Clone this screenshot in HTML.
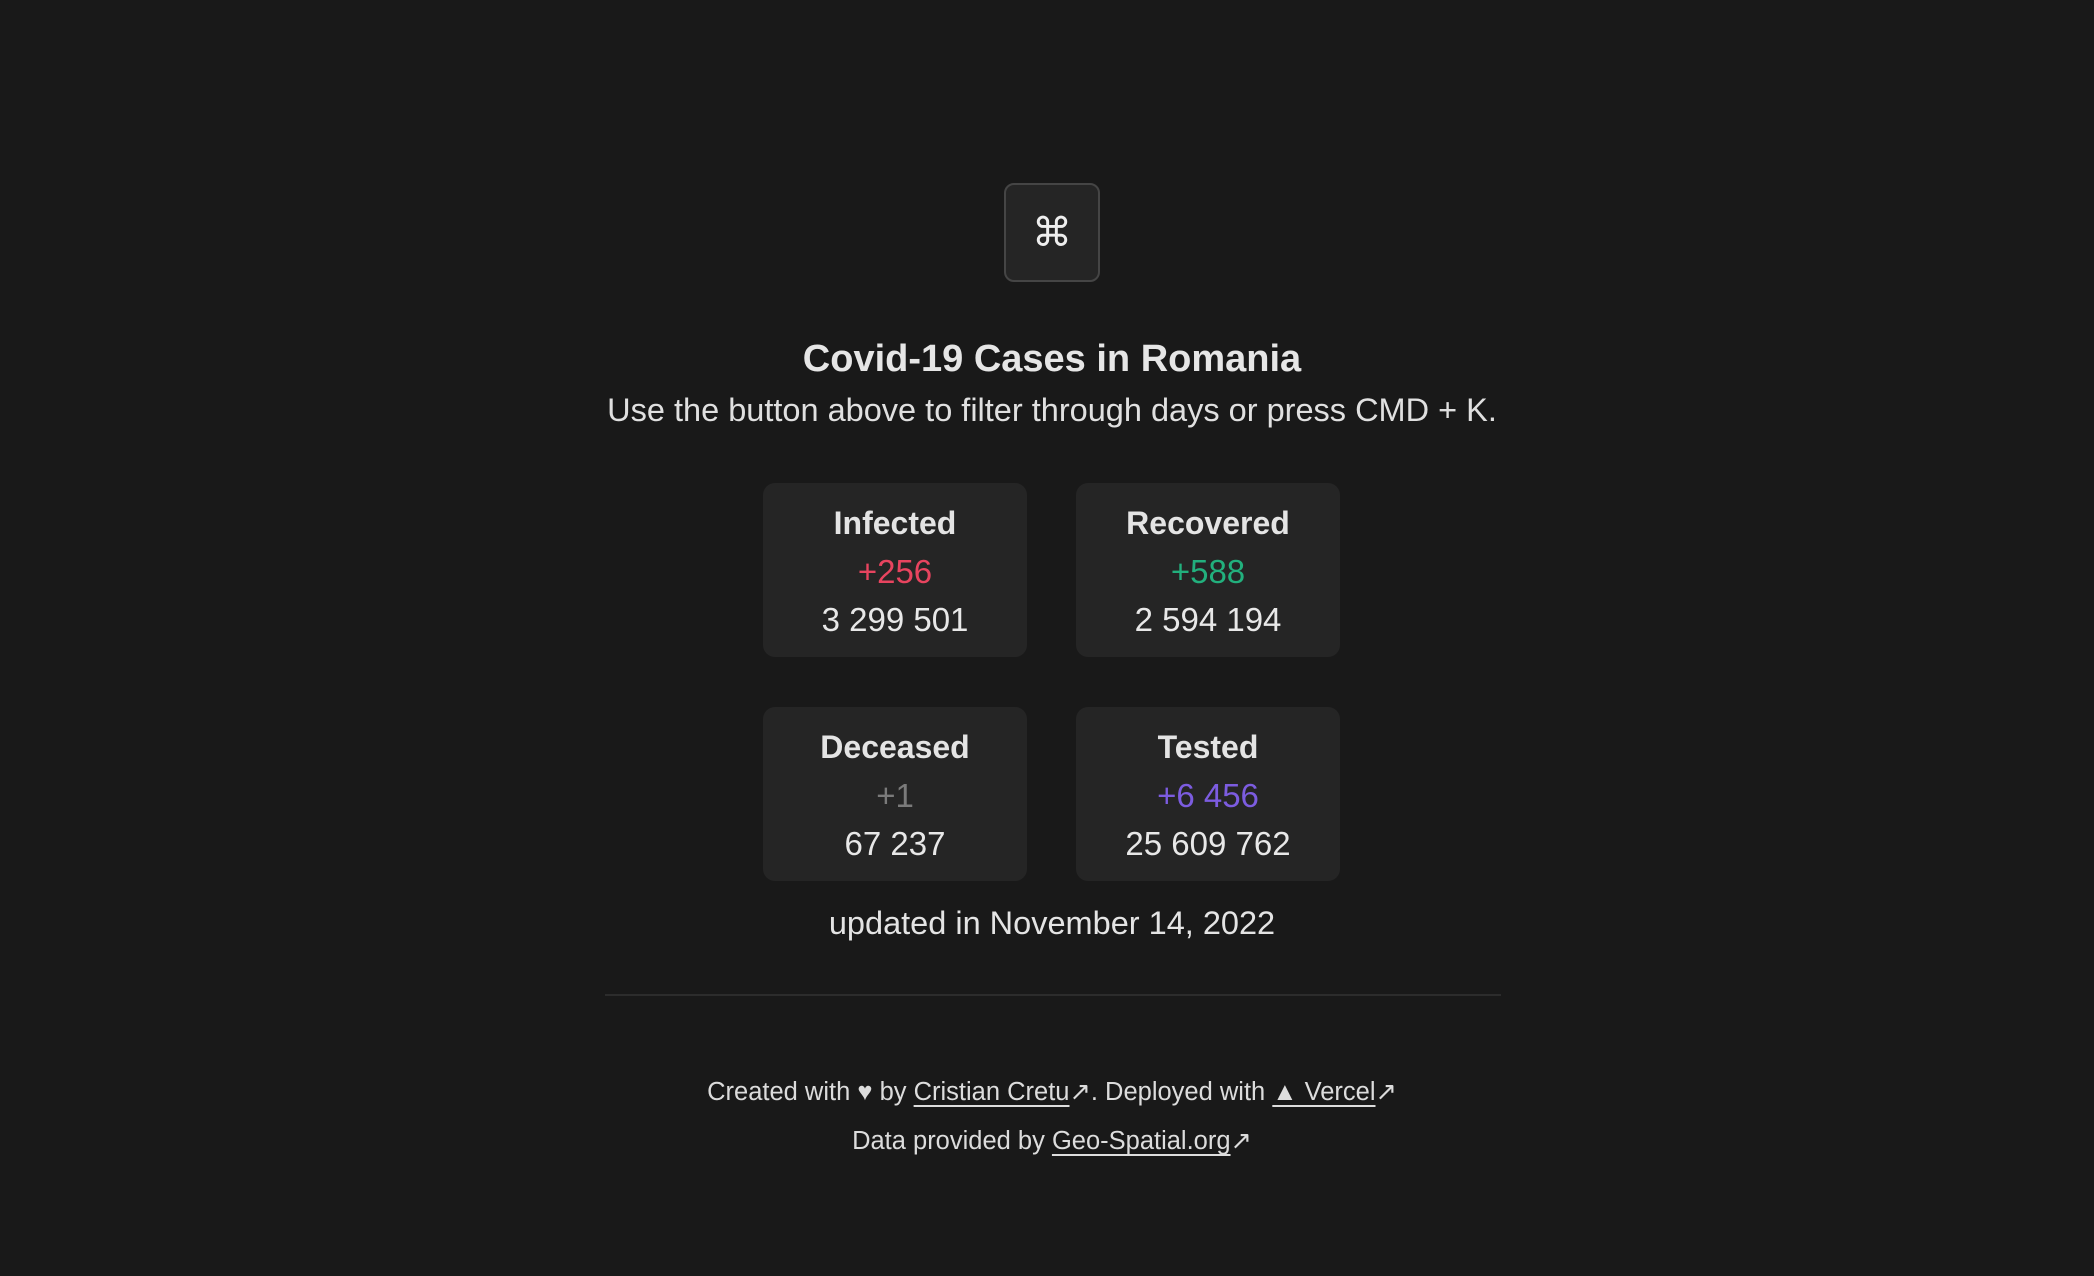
<!DOCTYPE html>
<html><head><meta charset="utf-8"><style>
*{margin:0;padding:0;box-sizing:border-box}
body{width:2094px;height:1276px;background:#191919;color:#e8e8e8;font-family:"Liberation Sans",sans-serif;position:relative;overflow:hidden}
.abs{position:absolute;left:5px;width:2094px;text-align:center;white-space:nowrap}
#cmd{position:absolute;left:1004px;top:183px;width:96px;height:99px;background:#252525;border:2px solid #454545;border-radius:10px;display:flex;align-items:center;justify-content:center;font-size:40px;color:#eee;font-family:"DejaVu Sans",sans-serif;font-weight:200}
.card{position:absolute;width:264px;height:174px;background:#252525;border-radius:12px;text-align:center}
.card .l{position:absolute;left:0;right:0;top:22px;font-size:32px;font-weight:bold;color:#e4e4e4}
.card .d{position:absolute;left:0;right:0;top:70px;font-size:33px}
.card .t{position:absolute;left:0;right:0;top:118px;font-size:33px;color:#e8e8e8}
a{color:#ddd;text-decoration:underline;text-underline-offset:5px}
</style></head><body>
<div id="cmd">⌘</div>
<div class="abs" style="top:338px;font-size:38px;font-weight:bold;color:#e6e6e6">Covid-19 Cases in Romania</div>
<div class="abs" style="top:392px;font-size:32.5px;color:#e0e0e0">Use the button above to filter through days or press CMD + K.</div>

<div class="card" style="left:763px;top:483px"><div class="l">Infected</div><div class="d" style="color:#e8445f">+256</div><div class="t">3 299 501</div></div>
<div class="card" style="left:1076px;top:483px"><div class="l">Recovered</div><div class="d" style="color:#22b07d">+588</div><div class="t">2 594 194</div></div>
<div class="card" style="left:763px;top:707px"><div class="l">Deceased</div><div class="d" style="color:#7a7a7a">+1</div><div class="t">67 237</div></div>
<div class="card" style="left:1076px;top:707px"><div class="l">Tested</div><div class="d" style="color:#7c5ce0">+6 456</div><div class="t">25 609 762</div></div>

<div class="abs" style="top:905px;font-size:32.5px;color:#e4e4e4">updated in November 14, 2022</div>
<div style="position:absolute;left:605px;top:994px;width:896px;height:2px;background:#2c2c2c"></div>

<div class="abs" style="top:1077px;font-size:25.5px;color:#dcdcdc">Created with ♥ by <a>Cristian Cretu</a>↗. Deployed with <a>▲ Vercel</a>↗</div>
<div class="abs" style="top:1126px;font-size:25.5px;color:#dcdcdc">Data provided by <a>Geo-Spatial.org</a>↗</div>
</body></html>
